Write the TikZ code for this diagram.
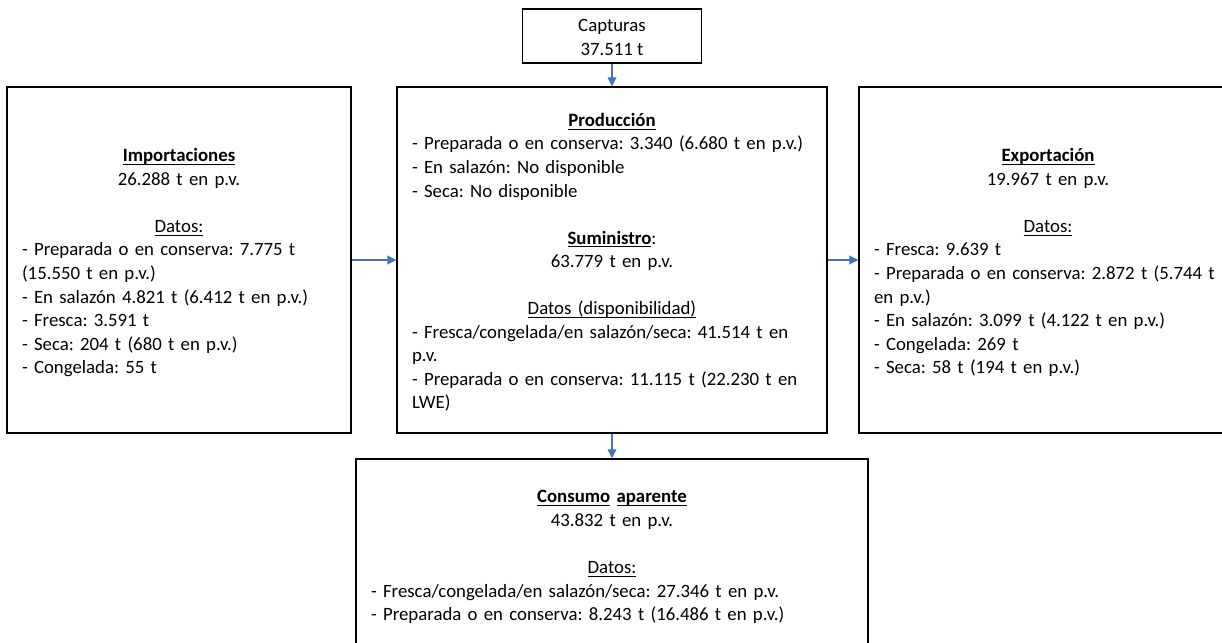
\documentclass[tikz,border=0pt]{standalone}
\usepackage{fontspec}
\setmainfont{Carlito}
\usetikzlibrary{arrows.meta}
\definecolor{arrowblue}{HTML}{4472C4}
\newcommand{\ctr}[1]{\makebox[\linewidth]{#1}}
\newcommand{\uln}[1]{\underline{\raisebox{0pt}[\height][0pt]{#1}}}
\newcommand{\hd}[1]{\uln{\textbf{#1}}}
\newcommand{\tstrut}{\rule{0pt}{12.8pt}}
\frenchspacing

\begin{document}
\begin{tikzpicture}[x=0.02cm,y=-0.02cm]
\clip (0,0) rectangle (1222,642);
		\begin{scope}[every node/.style={rectangle,draw,line width=0.9pt,inner xsep=0.3cm,inner ysep=0pt,font=\fontsize{10.7}{13.4}\selectfont\frenchspacing,align=left}]
			\node[minimum width=3.58cm,minimum height=1.08cm,align=center] (C) at (612,36) {\rule{0pt}{12.5pt}Capturas\\37.511 t\strut};
			\node[minimum height=6.92cm,text width=6.28cm] (I) at (179,260) {\ctr{\tstrut\hd{Importaciones}}\\
\ctr{26.288 t en p.v.}\\[\baselineskip]
\ctr{\uln{Datos:}}\\
- Preparada o en conserva: 7.775 t\\
(15.550 t en p.v.)\\
- En salazón 4.821 t (6.412 t en p.v.)\\
- Fresca: 3.591 t\\
- Seca: 204 t (680 t en p.v.)\\
- Congelada: 55 t\strut};
			\node[minimum height=6.92cm,text width=8.0cm] (P) at (612,260) {\ctr{\tstrut\hd{Producción}}\\
- Preparada o en conserva: 3.340 (6.680 t en p.v.)\\
- En salazón: No disponible\\
- Seca: No disponible\\[\baselineskip]
\ctr{\hd{Suministro}:}\\
\ctr{63.779 t en p.v.}\\[\baselineskip]
\ctr{\uln{Datos (disponibilidad)}}\\
- Fresca/congelada/en salazón/seca: 41.514 t en\\
p.v.\\
- Preparada o en conserva: 11.115 t (22.230 t en\\
LWE)\strut};
			\node[minimum height=6.92cm,text width=6.96cm] (E) at (1048,260) {\ctr{\tstrut\hd{Exportación}}\\
\ctr{19.967 t en p.v.}\\[\baselineskip]
\ctr{\uln{Datos:}}\\
- Fresca: 9.639 t\\
- Preparada o en conserva: 2.872 t (5.744 t\\
en p.v.)\\
- En salazón: 3.099 t (4.122 t en p.v.)\\
- Congelada: 269 t\\
- Seca: 58 t (194 t en p.v.)\strut};
			\node[minimum height=3.8cm,text width=9.64cm] (K) at (612,554) {\ctr{\tstrut\hd{Consumo} \hd{aparente}}\\
\ctr{43.832 t en p.v.}\\[\baselineskip]
\ctr{\uln{Datos:}}\\
- Fresca/congelada/en salazón/seca: 27.346 t en p.v.\\
- Preparada o en conserva: 8.243 t (16.486 t en p.v.)\strut};
		\end{scope}

\begin{scope}[>={Triangle[length=5pt,width=5pt]},
	every edge/.style={draw=arrowblue,line width=0.6pt}]
\path [->] (C) edge (P);
\path [->] (I) edge (P);
\path [->] (P) edge (E);
\path [->] (P) edge (K);
\end{scope}
	\end{tikzpicture}
\end{document}
